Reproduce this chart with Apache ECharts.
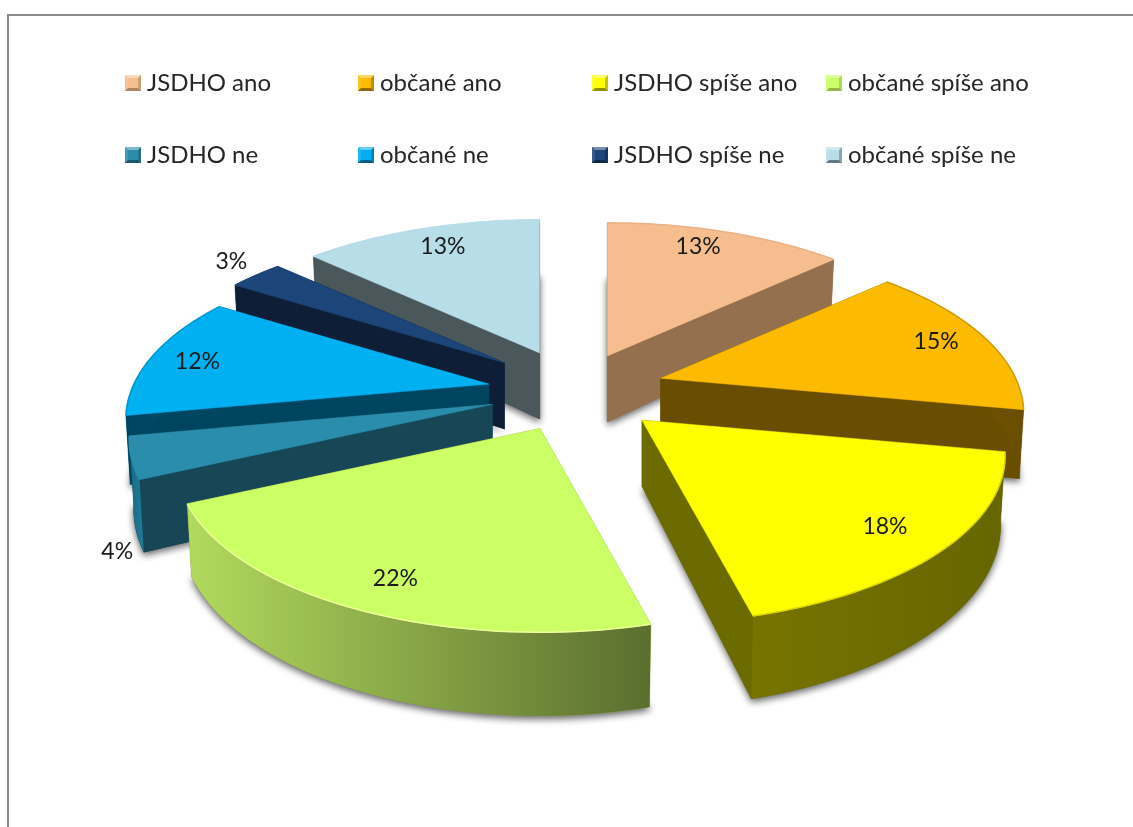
<!DOCTYPE html>
<html><head><meta charset="utf-8">
<style>html,body{margin:0;padding:0;background:#fff}#c{width:1133px;height:827px}</style>
<script src="https://cdn.jsdelivr.net/npm/echarts@6/dist/echarts.min.js"></script>
</head><body><div id="c"></div>
<script>
const categories=['JSDHO ano','občané ano','JSDHO spíše ano','občané spíše ano','JSDHO ne','občané ne','JSDHO spíše ne','občané spíše ne'];
const values=[13,15,18,22,4,12,3,13];
const topColors=['#F6BE8F','#FDBB00','#FFFF00','#CCFF66','#2A8DAC','#00B0F0','#1C4579','#B6DDE8'];
const cutColors=['#94704F','#694D00','#6B6B00','#8A9C40','#174656','#004560','#0D1E36','#4A585C'];
const edgeColors=['#E8B285','#D09A00','#D8D800','#EEFF99','#2A8DAC','#0098D0','#1C4579','#B6DDE8'];
const rimColors=[['#94704F','#94704F'],['#6A4E00','#7A5A00'],['#666600','#777400'],['#5A6E2E','#B2DA5E'],['#1F7C98','#1A6A84'],['#00506E','#004560'],['#0D1E36','#0D1E36'],['#4A585C','#4A585C']];
const apexNudge=[[-3,5],[-3,2],[-4,2],[7,0],[8,3],[5,4],[1,0],[0,2]];
const labelNudge=[[-7,-7],[15,-2],[9,7],[-2,13],[-14,94],[-21,1],[29,5],[1,-4]];
const labelRadius=[.8,.8,.8,.8,1,.8,1.25,.8];

const cx=575,cy=388,Rx=355,Ry=161,k=.21,T=66,explode=.264;
const total=values.reduce((a,b)=>a+b,0);
const starts=[];values.reduce((a,v,i)=>(starts[i]=a,a+v),0);
const toAngle=p=>p/total*2*Math.PI;
function scaleAt(v){return 1/(1+k*v);}
function midOf(i){return toAngle(starts[i]+values[i]/2);}

function renderItem(params,api){
  const i=params.seriesIndex,a0=toAngle(starts[i]),a1=toAngle(starts[i]+api.value(0));
  const m=(a0+a1)/2,ex=explode*Math.sin(m),ey=explode*Math.cos(m),es=scaleAt(ey);
  const ax=cx+ex*es*Rx+apexNudge[i][0],ay=cy-ey*es*Ry+apexNudge[i][1];
  const pt=(r,t,h)=>{const u=r*Math.sin(t),v=r*Math.cos(t),s=scaleAt(v);return [ax+u*s*Rx*(1-.012*h),ay-v*s*Ry+h*T*s];};
  const arc=h=>{const out=[],n=48;for(let j=0;j<=n;j++){out.push(pt(1,a0+(a1-a0)*j/n,h));}return out;};
  const poly=(points,fill,extra,z2)=>({type:'polygon',z2,shape:{points},style:Object.assign({fill,stroke:typeof fill==='string'?fill:null,lineWidth:.5},extra||{})});
  const apexT=pt(0,0,0),apexB=pt(0,0,1),topArc=arc(0),botArc=arc(1);
  const rim=new echarts.graphic.LinearGradient(0,0,1,0,[{offset:0,color:rimColors[i][1]},{offset:1,color:rimColors[i][0]}]);
  const children=[
    poly([apexB].concat(botArc),cutColors[i],{shadowBlur:7,shadowOffsetY:3,shadowColor:'rgba(0,0,0,.6)'},1),
    poly([apexT,topArc[0],botArc[0],apexB],cutColors[i],null,2),
    poly([apexT,topArc[topArc.length-1],botArc[botArc.length-1],apexB],cutColors[i],null,2),
    poly(topArc.concat(botArc.slice().reverse()),rim,null,3),
    poly([apexT].concat(topArc),topColors[i],null,4),
    {type:'polyline',z2:5,shape:{points:topArc},style:{fill:'none',stroke:edgeColors[i],lineWidth:1.5}}
  ];
  const lp=pt(labelRadius[i],m,0);
  children.push({type:'text',z2:6,style:{text:api.value(0)+'%',x:lp[0]+labelNudge[i][0],y:lp[1]+labelNudge[i][1],align:'center',verticalAlign:'middle',font:'23px Lato, "Open Sans", sans-serif',fill:'#1a1a1a'}});
  return {type:'group',children};
}
function icon(i){
  const t=topColors[i],c=cutColors[i];
  const svg=`<svg xmlns="http://www.w3.org/2000/svg" width="16" height="16"><rect width="16" height="16" fill="${t}"/><path d="M0 0H16L13 3H3Z" fill="#fff" fill-opacity=".4"/><path d="M0 0L3 3V13L0 16Z" fill="#fff" fill-opacity=".12"/><path d="M0 16L3 13H13L16 16Z" fill="${c}" fill-opacity=".75"/><path d="M16 0L13 3V13L16 16Z" fill="${c}" fill-opacity=".4"/></svg>`;
  return 'image://data:image/svg+xml;charset=utf-8,'+encodeURIComponent(svg);
}
const columns=[[0,4],[1,5],[2,6],[3,7]],colLeft=[125,358,592,826];
const chart=echarts.init(document.getElementById('c'),null,{renderer:'canvas'});
chart.setOption({
  animation:false,
  backgroundColor:'#fff',
  legend:columns.map((idx,c)=>({
    orient:'vertical',left:colLeft[c],top:71,itemWidth:16,itemHeight:16,itemGap:48,padding:0,selectedMode:false,
    data:idx.map(i=>({name:categories[i],icon:icon(i)})),
    textStyle:{fontFamily:'Lato',fontSize:24,color:'#262626',padding:[0,0,0,1]}
  })),
  graphic:[{type:'polyline',silent:true,shape:{points:[[8,827],[8,15],[1133,15]]},style:{fill:'none',stroke:'#8C8C8C',lineWidth:2}}],
  series:categories.map((name,i)=>({
    type:'custom',name,coordinateSystem:'none',renderItem,
    z:2+Math.round((1-Math.cos(midOf(i)))*10),
    itemStyle:{color:topColors[i]},
    data:[[values[i]]]
  }))
});
</script></body></html>
